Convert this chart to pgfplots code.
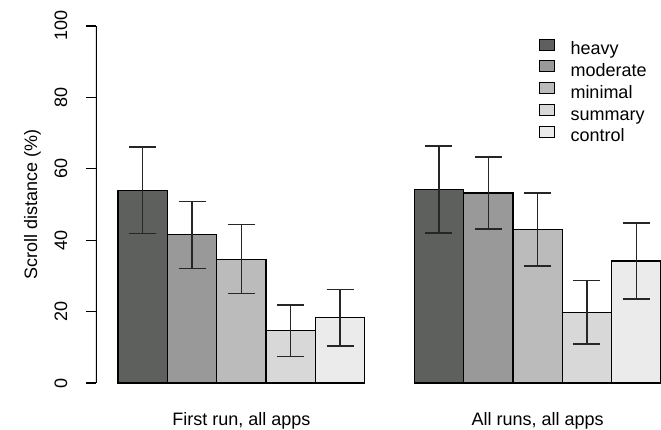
\documentclass[border=0pt]{standalone}
\usepackage{pgfplots}
\pgfplotsset{compat=1.18}
\usepackage{fontspec}
\setmainfont{Liberation Sans}
\definecolor{cheavy}{HTML}{5E605E}
\definecolor{cmoderate}{HTML}{999999}
\definecolor{cminimal}{HTML}{BBBBBB}
\definecolor{csummary}{HTML}{D8D8D8}
\definecolor{ccontrol}{HTML}{EBEBEB}
\newcommand{\fs}{\fontsize{18}{21.6}\selectfont}
\begin{document}
\begin{tikzpicture}[font=\fs]
\begin{axis}[
  at={(96pt,32.7pt)}, anchor=south west,
  scale only axis, width=565pt, height=385.6pt,
  xmin=0.555, xmax=12.0, ymin=-4, ymax=104,
  axis lines*=left,
  x axis line style={draw=none}, y axis line style={draw=none},
  xtick={3.5,9.5}, xticklabels={{First run, all apps},{All runs, all apps}},
  xtick style={draw=none},
  xticklabel style={anchor=base, font=\fs, yshift=-18.5pt},
  ytick={0,20,40,60,80,100},
  ytick align=outside, major tick length=10pt,
  ytick style={line width=1.2pt, black},
  yticklabel style={xshift=-19pt, rotate=90, anchor=base, font=\fs},
  /pgf/number format/assume math mode=true,
  ylabel={Scroll distance (\%)},
  every axis y label/.style={at={(axis description cs:-0.104,0.5)}, rotate=90, anchor=base, font=\fs},
  ybar, bar width=1, bar shift=0pt,
  every axis plot/.append style={draw=black, line width=1.2pt},
  error bars/y dir=both, error bars/y explicit,
  error bars/error bar style={line width=1.4pt, color=black!85},
  error bars/error mark options={line width=1.4pt, color=black!85, mark size=13.5pt, rotate=90},
  legend image code/.code={\draw[#1, line width=1pt] (0pt,-0.5pt) rectangle (14.7pt,10.5pt);},
  legend cell align=left,
  legend style={at={(axis description cs:0.7846,0.9302)}, anchor=north west,
    draw=none, fill=none, inner sep=0pt, outer sep=0pt, row sep=0pt,
    font=\fs,
    nodes={inner sep=0pt, text height=15.7pt, text depth=6pt},
    /tikz/every odd column/.append style={column sep=15.5pt}},
  clip=true,
]
\addplot[fill=cheavy] coordinates {(1.5,54.0) +- (0,12.1) (7.5,54.2) +- (0,12.15)};
\addplot[fill=cmoderate] coordinates {(2.5,41.5) +- (0,9.35) (8.5,53.2) +- (0,10.05)};
\addplot[fill=cminimal] coordinates {(3.5,34.7) +- (0,9.65) (9.5,43.0) +- (0,10.25)};
\addplot[fill=csummary] coordinates {(4.5,14.6) +- (0,7.25) (10.5,19.8) +- (0,8.85)};
\addplot[fill=ccontrol] coordinates {(5.5,18.3) +- (0,7.95) (11.5,34.2) +- (0,10.65)};
\legend{heavy,moderate,minimal,summary,control}
\draw[line width=1.2pt] (axis cs:0.555,0) -- (axis cs:0.555,100);
\end{axis}
\pgfresetboundingbox
\path[use as bounding box] (0pt,0pt) rectangle (661pt,430pt);
\end{tikzpicture}
\end{document}
